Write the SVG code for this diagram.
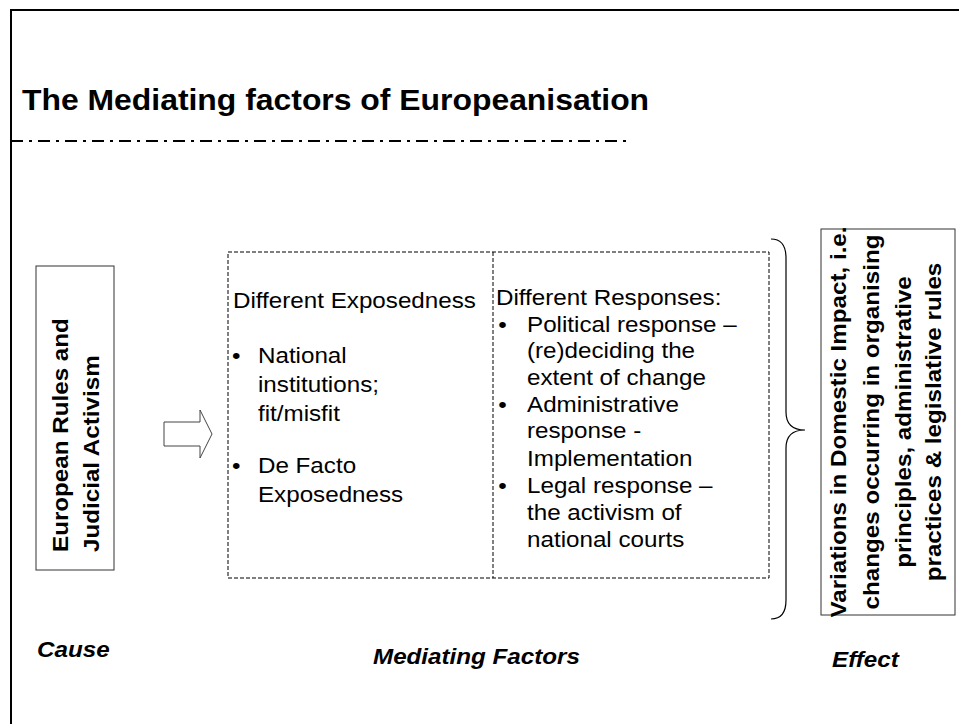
<svg xmlns="http://www.w3.org/2000/svg" width="959" height="724" viewBox="0 0 959 724">
<style>
.frame{stroke:#000;stroke-width:2;fill:none}
.dashdot{stroke:#000;stroke-width:2;stroke-dasharray:12 6 3 6;fill:none}
.box{fill:#fff;stroke:#333;stroke-width:1}
.dbox{fill:none;stroke:#000;stroke-width:1;stroke-dasharray:4 2}
.arrow{fill:#fff;stroke:#444;stroke-width:1}
.brace{fill:none;stroke:#000;stroke-width:1.2}
.t{font-family:"Liberation Sans",Arial,sans-serif;font-size:22px;fill:#000}
.b{font-weight:bold}
.i{font-style:italic}
.title{font-family:"Liberation Sans",Arial,sans-serif;font-size:29px;font-weight:bold;fill:#000}
</style>
<rect width="959" height="724" fill="#fff"/>
<path class="frame" d="M11,724 V10 H959"/>
<g id="title">
<text class="title" transform="translate(22,110) scale(1.1,1)">The Mediating factors of Europeanisation</text>
<path class="dashdot" d="M11,141 H632"/>
</g>
<g id="cause">
<rect class="box" x="36" y="266" width="78" height="304"/>
<text class="t b" transform="translate(68,552) rotate(-90) scale(1.1,1)">European Rules and</text>
<text class="t b" transform="translate(99,552) rotate(-90) scale(1.1,1)">Judicial Activism</text>
</g>
<g id="connectors">
<polygon class="arrow" points="164,422 200,422 200,410 212,434 200,458 200,446 164,446"/>
<path class="brace" d="M771,239 C781,239 786,245 786,258 L786,412 C786,424 793,430 805,430 C793,430 786,436 786,448 L786,600 C786,613 781,619 771,619"/>
</g>
<g id="mediating">
<rect class="dbox" x="228" y="252" width="541" height="326"/>
<line class="dbox" x1="493" y1="252" x2="493" y2="578"/>
<g transform="translate(233,0) scale(1.1,1)">
<text class="t" x="0" y="308">Different Exposedness</text>
<text class="t" x="-1" y="363">•</text>
<text class="t" x="22.7" y="363">National</text>
<text class="t" x="22.7" y="392">institutions;</text>
<text class="t" x="22.7" y="421">fit/misfit</text>
<text class="t" x="-1" y="473">•</text>
<text class="t" x="22.7" y="473">De Facto</text>
<text class="t" x="22.7" y="502">Exposedness</text>
</g>
<g transform="translate(496,0) scale(1.1,1)">
<text class="t" x="0" y="305">Different Responses:</text>
<text class="t" x="2" y="332">•</text>
<text class="t" x="28.2" y="332">Political response –</text>
<text class="t" x="28.2" y="358">(re)deciding the</text>
<text class="t" x="28.2" y="385">extent of change</text>
<text class="t" x="2" y="412">•</text>
<text class="t" x="28.2" y="412">Administrative</text>
<text class="t" x="28.2" y="438">response -</text>
<text class="t" x="28.2" y="466">Implementation</text>
<text class="t" x="2" y="493">•</text>
<text class="t" x="28.2" y="493">Legal response –</text>
<text class="t" x="28.2" y="520">the activism of</text>
<text class="t" x="28.2" y="547">national courts</text>
</g>
</g>
<g id="effect">
<rect class="box" x="821" y="229" width="134" height="386"/>
<g text-anchor="middle">
<text class="t b" transform="translate(846,422) rotate(-90) scale(1.1,1)">Variations in Domestic Impact, i.e.</text>
<text class="t b" transform="translate(879,422) rotate(-90) scale(1.1,1)">changes occurring in organising</text>
<text class="t b" transform="translate(911,422) rotate(-90) scale(1.1,1)">principles, administrative</text>
<text class="t b" transform="translate(941,422) rotate(-90) scale(1.1,1)">practices &amp; legislative rules</text>
</g>
</g>
<g id="labels">
<text class="t b i" transform="translate(37,657) scale(1.1,1)">Cause</text>
<text class="t b i" transform="translate(373,664) scale(1.1,1)">Mediating Factors</text>
<text class="t b i" transform="translate(832,667) scale(1.1,1)">Effect</text>
</g>
</svg>
